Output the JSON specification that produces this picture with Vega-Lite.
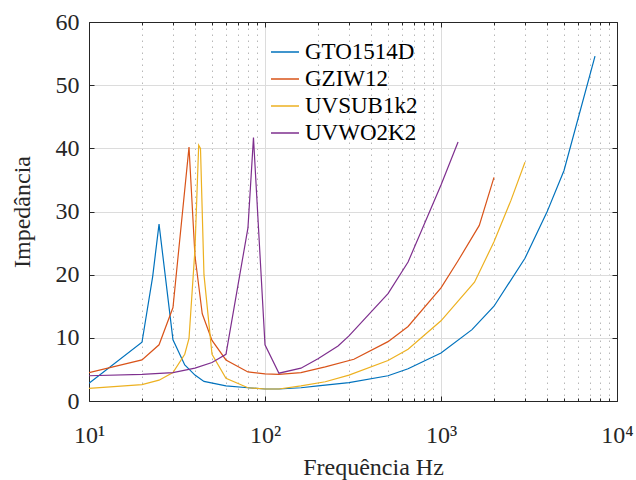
{
  "$schema": "https://vega.github.io/schema/vega-lite/v6.json",
  "width": 528,
  "height": 379,
  "autosize": {"type": "none"},
  "padding": {"left": 89, "top": 22, "right": 19, "bottom": 79},
  "background": "white",
  "config": {
    "view": {"stroke": null},
    "font": "Liberation Serif",
    "axis": {"domainColor": "#262626", "tickColor": "#262626", "labelColor": "#262626", "titleColor": "#262626", "labelFont": "Liberation Serif", "titleFont": "Liberation Serif", "titleFontWeight": "normal", "labelFontSize": 24, "titleFontSize": 24}
  },
  "data": {"values": [
    {"s": "GTO1514D", "f": 10, "z": 2.8},
    {"s": "GTO1514D", "f": 20, "z": 9.3},
    {"s": "GTO1514D", "f": 23, "z": 19.7},
    {"s": "GTO1514D", "f": 25, "z": 28.0},
    {"s": "GTO1514D", "f": 30, "z": 9.7},
    {"s": "GTO1514D", "f": 35, "z": 5.7},
    {"s": "GTO1514D", "f": 40, "z": 4.1},
    {"s": "GTO1514D", "f": 45, "z": 3.1},
    {"s": "GTO1514D", "f": 60, "z": 2.4},
    {"s": "GTO1514D", "f": 80, "z": 2.1},
    {"s": "GTO1514D", "f": 100, "z": 1.9},
    {"s": "GTO1514D", "f": 120, "z": 1.9},
    {"s": "GTO1514D", "f": 160, "z": 2.1},
    {"s": "GTO1514D", "f": 200, "z": 2.4},
    {"s": "GTO1514D", "f": 300, "z": 2.9},
    {"s": "GTO1514D", "f": 500, "z": 4.0},
    {"s": "GTO1514D", "f": 650, "z": 5.1},
    {"s": "GTO1514D", "f": 1000, "z": 7.6},
    {"s": "GTO1514D", "f": 1500, "z": 11.3},
    {"s": "GTO1514D", "f": 2000, "z": 15.0},
    {"s": "GTO1514D", "f": 3000, "z": 22.6},
    {"s": "GTO1514D", "f": 4000, "z": 29.9},
    {"s": "GTO1514D", "f": 5000, "z": 36.5},
    {"s": "GTO1514D", "f": 7500, "z": 54.6},
    {"s": "GZIW12", "f": 10, "z": 4.5},
    {"s": "GZIW12", "f": 20, "z": 6.5},
    {"s": "GZIW12", "f": 25, "z": 8.9},
    {"s": "GZIW12", "f": 30, "z": 14.8},
    {"s": "GZIW12", "f": 37, "z": 40.2},
    {"s": "GZIW12", "f": 40, "z": 23.0},
    {"s": "GZIW12", "f": 44, "z": 13.8},
    {"s": "GZIW12", "f": 50, "z": 9.6},
    {"s": "GZIW12", "f": 60, "z": 6.5},
    {"s": "GZIW12", "f": 80, "z": 4.6},
    {"s": "GZIW12", "f": 100, "z": 4.3},
    {"s": "GZIW12", "f": 120, "z": 4.2},
    {"s": "GZIW12", "f": 160, "z": 4.5},
    {"s": "GZIW12", "f": 220, "z": 5.4},
    {"s": "GZIW12", "f": 320, "z": 6.6},
    {"s": "GZIW12", "f": 500, "z": 9.4},
    {"s": "GZIW12", "f": 650, "z": 11.8},
    {"s": "GZIW12", "f": 1000, "z": 17.9},
    {"s": "GZIW12", "f": 1250, "z": 22.2},
    {"s": "GZIW12", "f": 1650, "z": 27.8},
    {"s": "GZIW12", "f": 2000, "z": 35.4},
    {"s": "UVSUB1k2", "f": 10, "z": 2.0},
    {"s": "UVSUB1k2", "f": 20, "z": 2.6},
    {"s": "UVSUB1k2", "f": 25, "z": 3.3},
    {"s": "UVSUB1k2", "f": 30, "z": 4.5},
    {"s": "UVSUB1k2", "f": 35, "z": 7.4},
    {"s": "UVSUB1k2", "f": 37, "z": 9.9},
    {"s": "UVSUB1k2", "f": 40, "z": 24.0},
    {"s": "UVSUB1k2", "f": 42, "z": 40.5},
    {"s": "UVSUB1k2", "f": 43, "z": 40.0},
    {"s": "UVSUB1k2", "f": 45, "z": 20.0},
    {"s": "UVSUB1k2", "f": 50, "z": 7.4},
    {"s": "UVSUB1k2", "f": 60, "z": 3.6},
    {"s": "UVSUB1k2", "f": 80, "z": 2.1},
    {"s": "UVSUB1k2", "f": 100, "z": 1.9},
    {"s": "UVSUB1k2", "f": 120, "z": 1.9},
    {"s": "UVSUB1k2", "f": 160, "z": 2.4},
    {"s": "UVSUB1k2", "f": 220, "z": 3.05},
    {"s": "UVSUB1k2", "f": 300, "z": 4.1},
    {"s": "UVSUB1k2", "f": 500, "z": 6.4},
    {"s": "UVSUB1k2", "f": 650, "z": 8.2},
    {"s": "UVSUB1k2", "f": 1000, "z": 12.7},
    {"s": "UVSUB1k2", "f": 1250, "z": 15.8},
    {"s": "UVSUB1k2", "f": 1550, "z": 18.8},
    {"s": "UVSUB1k2", "f": 2000, "z": 25.2},
    {"s": "UVSUB1k2", "f": 2500, "z": 31.8},
    {"s": "UVSUB1k2", "f": 3000, "z": 37.8},
    {"s": "UVWO2K2", "f": 10, "z": 4.0},
    {"s": "UVWO2K2", "f": 20, "z": 4.2},
    {"s": "UVWO2K2", "f": 30, "z": 4.5},
    {"s": "UVWO2K2", "f": 40, "z": 5.2},
    {"s": "UVWO2K2", "f": 50, "z": 6.1},
    {"s": "UVWO2K2", "f": 60, "z": 7.4},
    {"s": "UVWO2K2", "f": 80, "z": 27.4},
    {"s": "UVWO2K2", "f": 86, "z": 41.7},
    {"s": "UVWO2K2", "f": 100, "z": 8.9},
    {"s": "UVWO2K2", "f": 120, "z": 4.4},
    {"s": "UVWO2K2", "f": 160, "z": 5.2},
    {"s": "UVWO2K2", "f": 200, "z": 6.7},
    {"s": "UVWO2K2", "f": 260, "z": 8.7},
    {"s": "UVWO2K2", "f": 300, "z": 10.3},
    {"s": "UVWO2K2", "f": 500, "z": 17.0},
    {"s": "UVWO2K2", "f": 650, "z": 22.0},
    {"s": "UVWO2K2", "f": 1000, "z": 34.2},
    {"s": "UVWO2K2", "f": 1250, "z": 41.0}
  ]},
  "layer": [
    {
      "mark": {"type": "line", "strokeWidth": 1.2, "clip": true},
      "encoding": {
        "x": {"field": "f", "type": "quantitative",
          "scale": {"type": "log", "domain": [10, 10000], "nice": false},
          "axis": {
            "orient": "bottom",
            "values": [10,20,30,40,50,60,70,80,90,100,200,300,400,500,600,700,800,900,1000,2000,3000,4000,5000,6000,7000,8000,9000,10000],
            "labelExpr": "datum.value == 10 ? '10¹' : datum.value == 100 ? '10²' : datum.value == 1000 ? '10³' : datum.value == 10000 ? '10⁴' : ''",
            "labelOverlap": false, "labelFlush": false, "labelBaseline": "alphabetic", "labelPadding": 46,
            "tickSize": {"condition": {"test": "indexof([10,100,1000,10000], datum.value) >= 0", "value": -5}, "value": -3},
            "grid": true,
            "gridColor": {"condition": {"test": "indexof([10,100,1000,10000], datum.value) >= 0", "value": "#dcdcdc"}, "value": "#b8b8b8"},
            "gridDash": {"condition": {"test": "indexof([10,100,1000,10000], datum.value) >= 0", "value": []}, "value": [1.5, 4.5]},
            "gridWidth": 1,
            "title": "Frequência Hz",
            "titleX": 284, "titleY": 73, "titleBaseline": "alphabetic", "titleAlign": "center"
          }
        },
        "y": {"field": "z", "type": "quantitative",
          "scale": {"domain": [0, 60], "nice": false},
          "axis": {
            "orient": "left",
            "values": [0,10,20,30,40,50,60],
            "tickSize": -5, "labelPadding": 15, "labelFlush": false, "labelOverlap": false,
            "grid": true, "gridColor": "#dcdcdc", "gridWidth": 1,
            "title": "Impedância", "titleX": -60, "titleBaseline": "alphabetic"
          }
        },
        "color": {"field": "s", "type": "nominal",
          "scale": {"domain": ["GTO1514D", "GZIW12", "UVSUB1k2", "UVWO2K2"], "range": ["#0072BD", "#D95319", "#EDB120", "#7E2F8E"]},
          "legend": {
            "title": null, "orient": "none", "legendX": 181, "legendY": 15,
            "padding": 0, "symbolType": "stroke", "symbolSize": 784, "symbolStrokeWidth": 1.5,
            "labelFont": "Liberation Serif", "labelFontSize": 23, "labelColor": "#000000",
            "labelOffset": 5, "rowPadding": 0, "labelLimit": 300
          }
        }
      }
    },
    {
      "mark": {"type": "point", "opacity": 0, "size": 0},
      "encoding": {
        "x": {"field": "f", "type": "quantitative",
          "scale": {"type": "log", "domain": [10, 10000], "nice": false},
          "axis": {
            "orient": "top",
            "values": [10,20,30,40,50,60,70,80,90,100,200,300,400,500,600,700,800,900,1000,2000,3000,4000,5000,6000,7000,8000,9000,10000],
            "labels": false, "grid": false, "title": null,
            "tickSize": {"condition": {"test": "indexof([10,100,1000,10000], datum.value) >= 0", "value": -5}, "value": -3}
          }
        },
        "y": {"field": "z", "type": "quantitative",
          "scale": {"domain": [0, 60], "nice": false},
          "axis": {"orient": "right", "values": [0,10,20,30,40,50,60], "labels": false, "grid": false, "title": null, "tickSize": -5}
        }
      }
    }
  ],
  "resolve": {"axis": {"x": "independent", "y": "independent"}}
}
